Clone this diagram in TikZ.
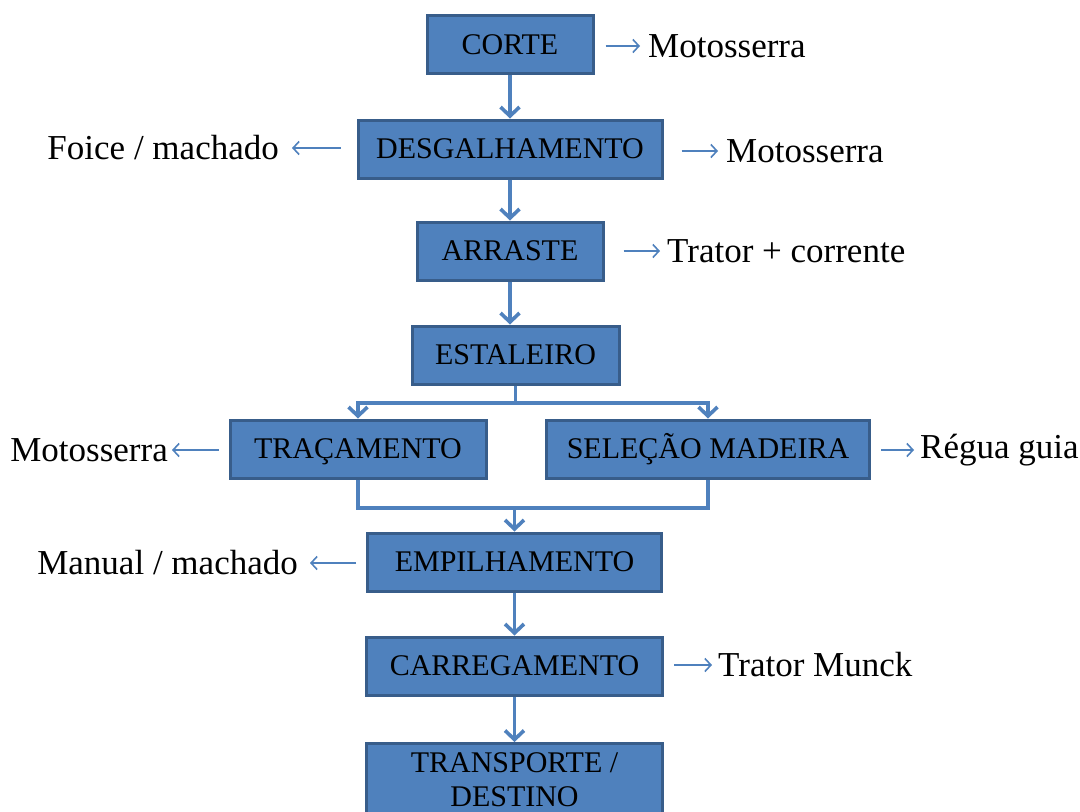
\documentclass[tikz,border=0pt]{standalone}
\usepackage{fontspec}
\setmainfont{Liberation Serif}
\usetikzlibrary{arrows.meta}
\definecolor{boxfill}{HTML}{4F81BD}
\definecolor{boxdraw}{HTML}{385D8A}
\tikzset{
  boxbase/.style={draw=boxdraw, line width=3pt, fill=boxfill, inner sep=0pt,
    font=\fontsize{30}{34}\selectfont, align=center},
  box/.style={boxbase, minimum height=58pt, text height=19pt, text depth=0pt},
  flow/.style={draw=boxfill, line width=3.6pt, -{Straight Barb[length=9pt,width=19pt,line width=3.6pt]}},
  plain/.style={draw=boxfill, line width=3.6pt},
  side/.style={draw=boxfill, line width=1.6pt, -{Straight Barb[length=6pt,width=13pt,line width=1.6pt]}},
  lbl/.style={font=\fontsize{35}{40}\selectfont, inner sep=0pt}
}
\begin{document}
\begin{tikzpicture}[x=1pt,y=-1pt]
\useasboundingbox (0,0) rectangle (1080,812);
\clip (0,0) rectangle (1080,812);
\fill[white] (0,0) rectangle (1080,812);
% boxes
\node[box, minimum width=166pt] (corte) at (510,44.5) {CORTE};
\node[box, minimum width=304pt] (desg) at (510,149) {DESGALHAMENTO};
\node[box, minimum width=186pt] (arr) at (510,251) {ARRASTE};
\node[box, minimum width=207pt] (est) at (515.5,355) {ESTALEIRO};
\node[box, minimum width=256pt] (trac) at (358,449) {TRAÇAMENTO};
\node[box, minimum width=323pt] (sel) at (708,449) {SELEÇÃO MADEIRA};
\node[box, minimum width=294pt] (emp) at (514.5,562) {EMPILHAMENTO};
\node[box, minimum width=296pt] (carr) at (514.5,666) {CARREGAMENTO};
\node[boxbase, minimum width=296pt, anchor=north, inner ysep=9pt, text depth=45pt] (trans) at (514.5,742) {TRANSPORTE /\\DESTINO};
% flow
\draw[flow] (corte) -- (desg);
\draw[flow] (desg) -- (arr);
\draw[flow] (arr.south) -- (arr.south |- est.north);
\coordinate (fork) at (515.5,403);
\draw[plain] (est.south) -- (fork);
\draw[flow] (fork) -| (trac.north);
\draw[flow] (fork) -| (sel.north);
\coordinate (merge) at (514.5,508);
\draw[plain] (trac.south) |- (merge) -| (sel.south);
\draw[flow] (merge) -- (emp.north);
\draw[flow] (emp) -- (carr);
\draw[flow] (carr.south) -- (carr.south |- trans.north);
% labels
\node[lbl, anchor=west] (l1) at (648,46) {Motosserra};
\node[lbl, anchor=west] (l2) at (726,151) {Motosserra};
\node[lbl, anchor=east] (l3) at (279,148) {Foice / machado};
\node[lbl, anchor=west] (l4) at (667,251) {Trator + corrente};
\node[lbl, anchor=east] (l5) at (168,450) {Motosserra};
\node[lbl, anchor=west] (l6) at (920,450) {Régua guia};
\node[lbl, anchor=east] (l7) at (298,563) {Manual / machado};
\node[lbl, anchor=west] (l8) at (718,665) {Trator Munck};
% side arrows
\draw[side] ([xshift=11pt]corte.east |- l1.west) -- ([xshift=-8pt]l1.west);
\draw[side] ([xshift=18pt]desg.east |- l2.west) -- ([xshift=-8pt]l2.west);
\draw[side] ([xshift=-16pt]desg.west |- l3.east) -- ([xshift=13pt]l3.east);
\draw[side] ([xshift=19pt]arr.east |- l4.west) -- ([xshift=-7pt]l4.west);
\draw[side] ([xshift=-10pt]trac.west |- l5.east) -- ([xshift=4pt]l5.east);
\draw[side] ([xshift=10pt]sel.east |- l6.west) -- ([xshift=-6pt]l6.west);
\draw[side] ([xshift=-10pt]emp.west |- l7.east) -- ([xshift=12pt]l7.east);
\draw[side] ([xshift=10pt]carr.east |- l8.west) -- ([xshift=-6pt]l8.west);
\end{tikzpicture}
\end{document}
